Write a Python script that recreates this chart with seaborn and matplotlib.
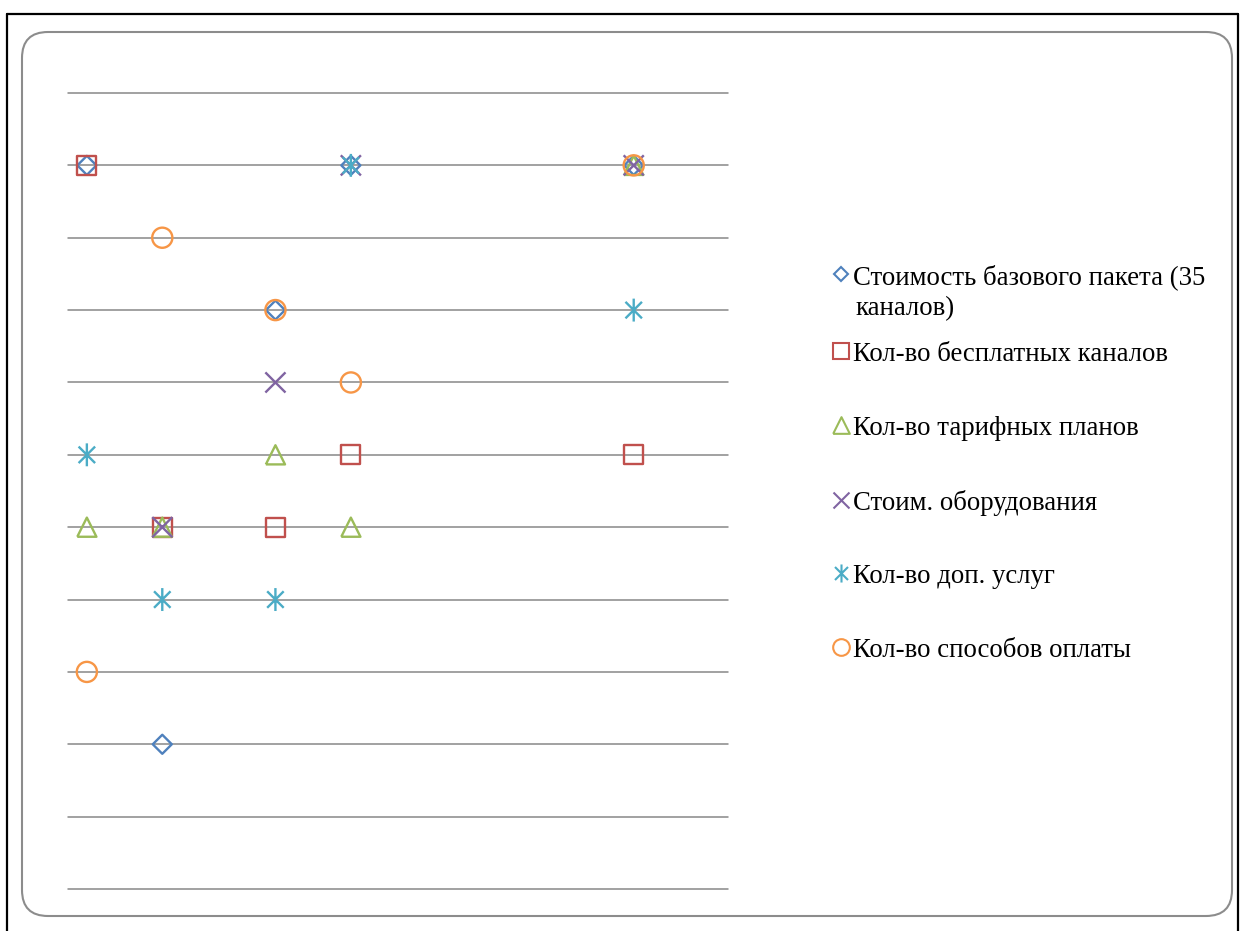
import numpy as np
import matplotlib
matplotlib.use("Agg")
import matplotlib.pyplot as plt
import seaborn as sns
from matplotlib.path import Path
from matplotlib.patches import FancyBboxPatch
from matplotlib.lines import Line2D
from matplotlib.transforms import IdentityTransform

# --- data ---------------------------------------------------------------
x_vals = [1, 5, 11, 15, 30]
base_package_cost = [10, 2, 8, 10, 10]
free_channels = [10, 5, 5, 6, 6]
tariff_plans = [5, 5, 6, 5, 10]
equipment_cost = [np.nan, 5, 7, 10, 10]
extra_services = [6, 4, 4, 10, 8]
payment_methods = [3, 9, 8, 7, 10]

series_labels = [
    "Стоимость базового пакета (35\nканалов)",
    "Кол-во бесплатных каналов",
    "Кол-во тарифных планов",
    "Стоим. оборудования",
    "Кол-во доп. услуг",
    "Кол-во способов оплаты",
]
series_values = [base_package_cost, free_channels, tariff_plans,
                 equipment_cost, extra_services, payment_methods]

# --- marker shapes ------------------------------------------------------
M, L = Path.MOVETO, Path.LINETO
triangle = Path([(-1, -1), (1, -1), (0, 1), (-1, -1)], [M, L, L, L])
cross = Path([(-1, -1), (1, 1), (-1, 1), (1, -1)], [M, L, M, L])
asterisk = Path([(-0.72, -0.72), (0.72, 0.72), (-0.72, 0.72), (0.72, -0.72),
                 (0, -1), (0, 1)], [M, L, M, L, M, L])

markers = ["D", "s", triangle, cross, asterisk, "o"]
colors = ["#4F81BD", "#C0504D", "#9BBB59", "#8064A2", "#4BACC6", "#F79646"]
sizes = [9.7, 13.8, 13.8, 14.5, 16.5, 14.5]        # points, plot area
legend_sizes = [7.2, 11.5, 12.0, 11.5, 13.0, 12.0]  # points, legend

sns.set_theme(style="white")
plt.rcParams["font.family"] = ["Liberation Serif", "DejaVu Serif"]

W, H = 1241, 931
fig = plt.figure(figsize=(W / 100, H / 100), dpi=100)
fig.patch.set_facecolor("white")

# outer frame and rounded panel
for xs, ys in [((7, 7), (0, 917)), ((7, 1238), (917, 917)), ((1238, 1238), (0, 917))]:
    fig.add_artist(Line2D(xs, ys, transform=IdentityTransform(), color="black", lw=1.6))
panel = FancyBboxPatch((22, H - 916), 1210, 884,
                       boxstyle="round,pad=0,rounding_size=26",
                       transform=IdentityTransform(), facecolor="none",
                       edgecolor="#8c8c8c", lw=1.5)
fig.add_artist(panel)

ax = fig.add_axes([68 / W, 1 - 889 / H, 660 / W, (889 - 93) / H])
ax.set_facecolor("none")

for vals, mk, col, ms in zip(series_values, markers, colors, sizes):
    sns.scatterplot(x=x_vals, y=vals, ax=ax, marker=mk, s=ms ** 2,
                    facecolor="none", edgecolor=col, linewidth=1.7,
                    legend=False, zorder=3, clip_on=False)

ax.set_xlim(0, 35)
ax.set_ylim(0, 11)
ax.set_yticks(range(0, 12))
ax.set_xticks([])
ax.yaxis.grid(True, color="#878787", lw=1.1)
for gl in ax.get_ygridlines():
    gl.set_clip_on(False)
ax.tick_params(left=False, labelleft=False, bottom=False, labelbottom=False)
for sp in ax.spines.values():
    sp.set_visible(False)
ax.set_xlabel("")
ax.set_ylabel("")

# legend drawn at the right of the panel
leg_marker_x = 841
leg_text_x = 853
leg_y = [274, 351, 425, 500, 573, 647]
for lab, mk, col, ms, yy in zip(series_labels, markers, colors, legend_sizes, leg_y):
    fig.add_artist(Line2D([leg_marker_x], [H - yy], transform=IdentityTransform(),
                          marker=mk, markersize=ms, markerfacecolor="none",
                          markeredgecolor=col, markeredgewidth=1.5, linestyle="none"))
    first, *rest = lab.split("\n")
    fig.text(leg_text_x / W, 1 - (yy + 10) / H, first, fontsize=19.3,
             color="black", va="baseline", ha="left")
    for i, line in enumerate(rest, start=1):
        fig.text((leg_text_x + 2) / W, 1 - (yy + 10 + 31 * i) / H, line, fontsize=19.3,
                 color="black", va="baseline", ha="left")

fig.savefig("out.png", dpi=100, facecolor="white")
